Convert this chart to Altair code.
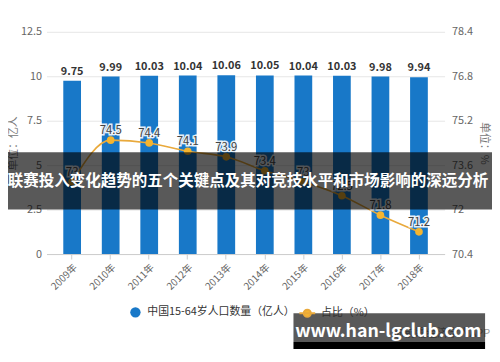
import altair as alt
import pandas as pd

years = ["2009年", "2010年", "2011年", "2012年", "2013年", "2014年", "2015年", "2016年", "2017年", "2018年"]
population = [9.75, 9.99, 10.03, 10.04, 10.06, 10.05, 10.04, 10.03, 9.98, 9.94]
share = [73.0, 74.5, 74.4, 74.1, 73.9, 73.4, 73.0, 72.5, 71.8, 71.2]

bar_series = "中国15-64岁人口数量（亿人）"
line_series = "占比（%）"
left_ticks = [0, 2.5, 5, 7.5, 10, 12.5]
right_ticks = [70.4, 72, 73.6, 75.2, 76.8, 78.4]
banner_text = "联赛投入变化趋势的五个关键点及其对竞技水平和市场影响的深远分析"
watermark_text = "www.han-lgclub.com"
source_text = "@前瞻经济学人APP"

BLUE = "#1878c8"
ORANGE = "#e9a93b"
POINT = "#f5b530"
FONT = "Noto Sans CJK SC"

df = pd.DataFrame({
    "year": years,
    "pop": population,
    "share": share,
    "s1": [bar_series] * len(years),
    "s2": [line_series] * len(years),
})

x_enc = alt.X(
    "year:N", sort=years,
    scale=alt.Scale(paddingInner=0.54, paddingOuter=0.435),
    axis=alt.Axis(title=None, labelAngle=-45, labelFontSize=10, labelColor="#666",
                  tickColor="#ccc", domainColor="#ccc", tickSize=5, labelPadding=3, grid=False),
)

y_left = alt.Y(
    "pop:Q",
    scale=alt.Scale(domain=[0, 12.5], nice=False, zero=True),
    axis=alt.Axis(values=left_ticks, format=".1~f", title="单位：亿人", titleColor="#777",
                  titleFontWeight="normal", titleFontSize=11, labelColor="#666", labelFontSize=11,
                  ticks=False, domain=False, gridColor="#e6e6e6", labelPadding=5, titlePadding=2,
                  orient="left"),
)

y_right = alt.Y(
    "share:Q",
    scale=alt.Scale(domain=[70.4, 78.4], nice=False, zero=False),
    axis=alt.Axis(values=right_ticks, format=".1~f", title="单位：%", titleColor="#777",
                  titleFontWeight="normal", titleFontSize=11, labelColor="#666", labelFontSize=11,
                  ticks=False, domain=False, grid=False, labelPadding=7, titlePadding=6,
                  orient="right"),
)

base = alt.Chart(df)

bars = base.mark_bar().encode(
    x=x_enc,
    y=y_left,
    color=alt.Color("s1:N", scale=alt.Scale(range=[BLUE]),
                    legend=alt.Legend(title=None, orient="none", legendX=84, legendY=278,
                                      symbolType="circle", symbolSize=110, labelFontSize=11,
                                      labelColor="#333", labelOffset=6, padding=0)),
)
bar_labels = base.mark_text(fontSize=11, fontWeight="bold", color="#333", baseline="alphabetic",
                            dy=-6).encode(
    x=x_enc, y=y_left, text=alt.Text("pop:Q", format=".2f"))

left_layer = alt.layer(bars, bar_labels)

line = base.mark_line(interpolate="monotone", strokeWidth=1.6).encode(
    x=x_enc,
    y=y_right,
    stroke=alt.Stroke("s2:N", scale=alt.Scale(range=[ORANGE]),
                      legend=alt.Legend(title=None, orient="none", legendX=255, legendY=276,
                                        symbolType="M-1,0L1,0M-0.45,0A0.45,0.45,0,1,1,0.45,0A0.45,0.45,0,1,1,-0.45,0Z",
                                        symbolSize=256, symbolFillColor=POINT, symbolStrokeWidth=2,
                                        labelFontSize=11, labelColor="#333", labelOffset=5, padding=0)),
)
points = base.mark_point(filled=True, size=60, color=POINT, opacity=1).encode(x=x_enc, y=y_right)
halo = base.mark_text(fontSize=11.5, color="#444", baseline="alphabetic", dy=-6, stroke="white",
                      strokeWidth=3, strokeOpacity=0.9).encode(
    x=x_enc, y=y_right, text=alt.Text("share:Q", format=".1~f"))
line_labels = base.mark_text(fontSize=11.5, color="#444", baseline="alphabetic", dy=-6).encode(
    x=x_enc, y=y_right, text=alt.Text("share:Q", format=".1~f"))

right_layer = alt.layer(line, points, halo, line_labels)

one = pd.DataFrame({"t": [banner_text]})
banner_rect = alt.Chart(one).mark_rect(color="black", opacity=0.65).encode(
    x=alt.value(-47), x2=alt.value(453), y=alt.value(122), y2=alt.value(180))
banner_label = alt.Chart(one).mark_text(color="white", fontSize=15.7, fontWeight="bold",
                                        align="center", baseline="middle").encode(
    x=alt.value(204), y=alt.value(151), text="t:N")

src = pd.DataFrame({"t": [source_text]})
source_label = alt.Chart(src).mark_text(color="#999", fontSize=11, align="right",
                                        baseline="middle").encode(
    x=alt.value(449), y=alt.value(306), text="t:N")
wm_box = alt.Chart(one).mark_rect(color="black", opacity=0.65).encode(
    x=alt.value(250), x2=alt.value(444), y=alt.value(285), y2=alt.value(314))
wm_strip = alt.Chart(one).mark_rect(color="black", opacity=1).encode(
    x=alt.value(250), x2=alt.value(444), y=alt.value(314), y2=alt.value(323))
wm = pd.DataFrame({"t": [watermark_text]})
wm_label = alt.Chart(wm).mark_text(color="white", fontSize=18, fontWeight="bold",
                                   align="center", baseline="middle").encode(
    x=alt.value(346), y=alt.value(304), text="t:N")

chart = alt.layer(
    left_layer, right_layer, banner_rect, banner_label, source_label, wm_box, wm_strip, wm_label
).resolve_scale(y="independent").properties(
    width=403, height=225,
    autosize=alt.AutoSizeParams(type="none"),
    padding={"left": 39, "top": 22, "right": 48, "bottom": 94},
).configure(font=FONT).configure_view(stroke=None)

chart.save("out.html", embed_options={"renderer": "svg", "actions": False})
